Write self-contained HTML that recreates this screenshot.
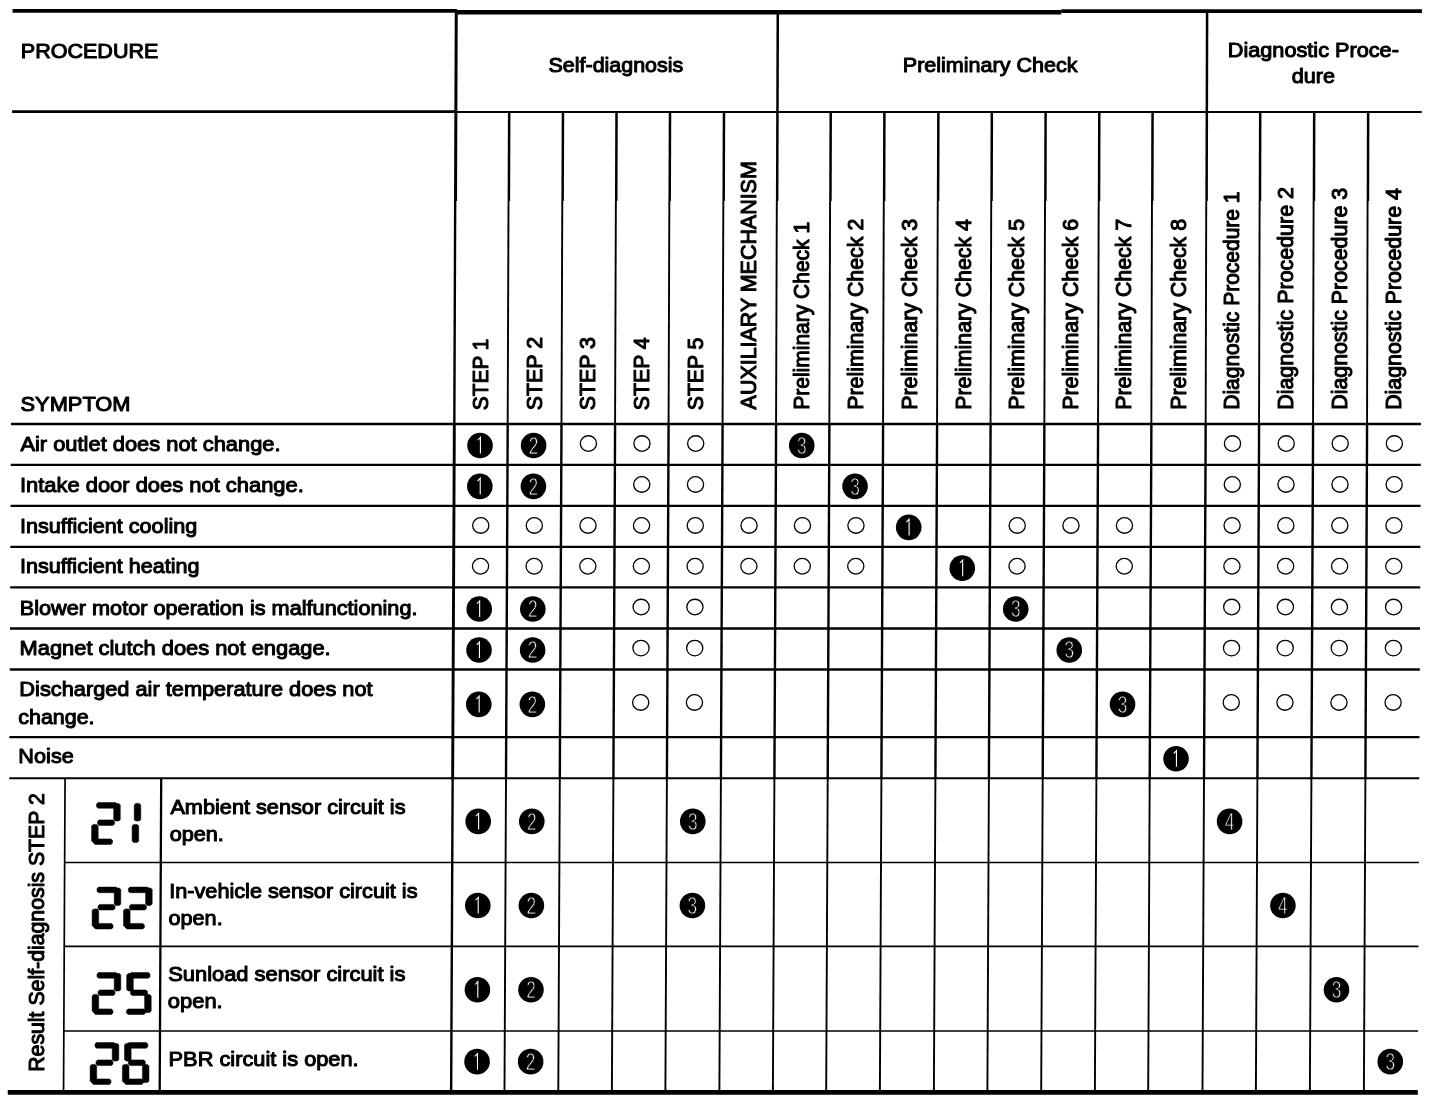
<!DOCTYPE html>
<html><head><meta charset="utf-8"><title>Trouble diagnoses - symptom chart</title>
<style>
html,body{margin:0;padding:0;background:#fff;}
body{width:1456px;height:1116px;overflow:hidden;position:relative;}
svg{position:absolute;left:0;top:0;display:block;will-change:transform;}
text{font-family:"Liberation Sans",sans-serif;fill:#000;stroke:#000;stroke-width:1.05px;stroke-linejoin:round;}
.w{fill:#fff;stroke:#000;stroke-width:0.85px;font-size:24px;text-anchor:middle;}
.ln{stroke:#000;fill:none;}
.seg{fill:#000;stroke:#000;stroke-width:0.5px;stroke-linejoin:round;}
</style></head><body>
<svg width="1456" height="1116" viewBox="0 0 1456 1116">
<rect width="1456" height="1116" fill="#fff"/>
<g class="ln" stroke-linecap="butt">
<line x1="12.50" y1="10.85" x2="457.10" y2="10.85" stroke-width="3.90"/>
<line x1="457.09" y1="12.25" x2="1061.24" y2="12.25" stroke-width="4.70"/>
<line x1="1061.25" y1="11.15" x2="1421.94" y2="11.15" stroke-width="3.90"/>
<line x1="7.74" y1="1092.30" x2="1417.79" y2="1092.30" stroke-width="4.70"/>
<line x1="12.12" y1="111.70" x2="456.72" y2="111.70" stroke-width="2.70"/>
<line x1="456.72" y1="112.00" x2="1421.70" y2="112.00" stroke-width="2.20"/>
<line x1="10.93" y1="424.00" x2="1420.95" y2="424.00" stroke-width="2.30"/>
<line x1="10.75" y1="464.90" x2="1420.80" y2="464.90" stroke-width="2.30"/>
<line x1="10.56" y1="505.80" x2="1420.61" y2="505.80" stroke-width="2.30"/>
<line x1="10.36" y1="546.90" x2="1420.41" y2="546.90" stroke-width="2.30"/>
<line x1="10.17" y1="587.40" x2="1420.22" y2="587.40" stroke-width="2.30"/>
<line x1="9.97" y1="628.50" x2="1420.02" y2="628.50" stroke-width="2.30"/>
<line x1="9.77" y1="669.50" x2="1419.82" y2="669.50" stroke-width="2.30"/>
<line x1="9.45" y1="737.20" x2="1419.50" y2="737.20" stroke-width="2.30"/>
<line x1="9.25" y1="778.30" x2="1419.30" y2="778.30" stroke-width="2.10"/>
<line x1="64.65" y1="862.50" x2="1418.90" y2="862.50" stroke-width="1.70"/>
<line x1="64.24" y1="946.40" x2="1418.49" y2="946.40" stroke-width="1.70"/>
<line x1="63.84" y1="1031.00" x2="1418.09" y2="1031.00" stroke-width="1.70"/>
<line x1="456.25" y1="10.70" x2="455.53" y2="201.05" stroke-width="3.00"/>
<line x1="455.18" y1="200.95" x2="454.33" y2="424.05" stroke-width="2.40"/>
<line x1="454.33" y1="423.95" x2="454.25" y2="445.05" stroke-width="2.90"/>
<line x1="454.25" y1="444.95" x2="452.65" y2="778.35" stroke-width="2.90"/>
<line x1="452.65" y1="778.25" x2="451.14" y2="1092.35" stroke-width="2.40"/>
<line x1="509.19" y1="111.85" x2="508.86" y2="201.05" stroke-width="2.50"/>
<line x1="508.51" y1="200.95" x2="507.68" y2="424.05" stroke-width="1.90"/>
<line x1="507.68" y1="423.95" x2="507.60" y2="445.05" stroke-width="2.40"/>
<line x1="507.60" y1="444.95" x2="506.00" y2="778.35" stroke-width="2.40"/>
<line x1="506.00" y1="778.25" x2="504.49" y2="1092.35" stroke-width="1.90"/>
<line x1="562.96" y1="111.85" x2="562.64" y2="201.05" stroke-width="2.50"/>
<line x1="562.29" y1="200.95" x2="561.48" y2="424.05" stroke-width="1.90"/>
<line x1="561.48" y1="423.95" x2="561.40" y2="445.05" stroke-width="2.40"/>
<line x1="561.40" y1="444.95" x2="559.80" y2="778.35" stroke-width="2.40"/>
<line x1="559.80" y1="778.25" x2="558.29" y2="1092.35" stroke-width="1.90"/>
<line x1="616.53" y1="111.85" x2="616.22" y2="201.05" stroke-width="2.50"/>
<line x1="615.87" y1="200.95" x2="615.07" y2="424.05" stroke-width="1.90"/>
<line x1="615.07" y1="423.95" x2="615.00" y2="445.05" stroke-width="2.40"/>
<line x1="615.00" y1="444.95" x2="613.40" y2="778.35" stroke-width="2.40"/>
<line x1="613.40" y1="778.25" x2="611.89" y2="1092.35" stroke-width="1.90"/>
<line x1="670.01" y1="111.85" x2="669.70" y2="201.05" stroke-width="2.50"/>
<line x1="669.35" y1="200.95" x2="668.57" y2="424.05" stroke-width="1.90"/>
<line x1="668.57" y1="423.95" x2="668.50" y2="445.05" stroke-width="2.40"/>
<line x1="668.50" y1="444.95" x2="666.90" y2="778.35" stroke-width="2.40"/>
<line x1="666.90" y1="778.25" x2="665.39" y2="1092.35" stroke-width="1.90"/>
<line x1="723.98" y1="111.85" x2="723.68" y2="201.05" stroke-width="2.50"/>
<line x1="723.33" y1="200.95" x2="722.57" y2="424.05" stroke-width="1.90"/>
<line x1="722.57" y1="423.95" x2="722.50" y2="445.05" stroke-width="2.40"/>
<line x1="722.50" y1="444.95" x2="720.90" y2="778.35" stroke-width="2.40"/>
<line x1="720.90" y1="778.25" x2="719.39" y2="1092.35" stroke-width="1.90"/>
<line x1="777.79" y1="10.70" x2="777.16" y2="201.05" stroke-width="2.50"/>
<line x1="776.81" y1="200.95" x2="776.07" y2="424.05" stroke-width="1.90"/>
<line x1="776.07" y1="423.95" x2="776.00" y2="445.05" stroke-width="2.40"/>
<line x1="776.00" y1="444.95" x2="774.40" y2="778.35" stroke-width="2.40"/>
<line x1="774.40" y1="778.25" x2="772.89" y2="1092.35" stroke-width="1.90"/>
<line x1="830.72" y1="111.85" x2="830.44" y2="201.05" stroke-width="2.50"/>
<line x1="830.09" y1="200.95" x2="829.37" y2="424.05" stroke-width="1.90"/>
<line x1="829.37" y1="423.95" x2="829.30" y2="445.05" stroke-width="2.40"/>
<line x1="829.30" y1="444.95" x2="827.70" y2="778.35" stroke-width="2.40"/>
<line x1="827.70" y1="778.25" x2="826.19" y2="1092.35" stroke-width="1.90"/>
<line x1="884.40" y1="111.85" x2="884.12" y2="201.05" stroke-width="2.50"/>
<line x1="883.77" y1="200.95" x2="883.07" y2="424.05" stroke-width="1.90"/>
<line x1="883.07" y1="423.95" x2="883.00" y2="445.05" stroke-width="2.40"/>
<line x1="883.00" y1="444.95" x2="881.40" y2="778.35" stroke-width="2.40"/>
<line x1="881.40" y1="778.25" x2="879.89" y2="1092.35" stroke-width="1.90"/>
<line x1="938.37" y1="111.85" x2="938.10" y2="201.05" stroke-width="2.50"/>
<line x1="937.75" y1="200.95" x2="937.06" y2="424.05" stroke-width="1.90"/>
<line x1="937.06" y1="423.95" x2="937.00" y2="445.05" stroke-width="2.40"/>
<line x1="937.00" y1="444.95" x2="935.40" y2="778.35" stroke-width="2.40"/>
<line x1="935.40" y1="778.25" x2="933.89" y2="1092.35" stroke-width="1.90"/>
<line x1="991.84" y1="111.85" x2="991.58" y2="201.05" stroke-width="2.50"/>
<line x1="991.23" y1="200.95" x2="990.56" y2="424.05" stroke-width="1.90"/>
<line x1="990.56" y1="423.95" x2="990.50" y2="445.05" stroke-width="2.40"/>
<line x1="990.50" y1="444.95" x2="988.90" y2="778.35" stroke-width="2.40"/>
<line x1="988.90" y1="778.25" x2="987.39" y2="1092.35" stroke-width="1.90"/>
<line x1="1045.61" y1="111.85" x2="1045.36" y2="201.05" stroke-width="2.50"/>
<line x1="1045.01" y1="200.95" x2="1044.36" y2="424.05" stroke-width="1.90"/>
<line x1="1044.36" y1="423.95" x2="1044.30" y2="445.05" stroke-width="2.40"/>
<line x1="1044.30" y1="444.95" x2="1042.70" y2="778.35" stroke-width="2.40"/>
<line x1="1042.70" y1="778.25" x2="1041.19" y2="1092.35" stroke-width="1.90"/>
<line x1="1099.29" y1="111.85" x2="1099.04" y2="201.05" stroke-width="2.50"/>
<line x1="1098.69" y1="200.95" x2="1098.06" y2="424.05" stroke-width="1.90"/>
<line x1="1098.06" y1="423.95" x2="1098.00" y2="445.05" stroke-width="2.40"/>
<line x1="1098.00" y1="444.95" x2="1096.40" y2="778.35" stroke-width="2.40"/>
<line x1="1096.40" y1="778.25" x2="1094.89" y2="1092.35" stroke-width="1.90"/>
<line x1="1152.56" y1="111.85" x2="1152.32" y2="201.05" stroke-width="2.50"/>
<line x1="1151.97" y1="200.95" x2="1151.36" y2="424.05" stroke-width="1.90"/>
<line x1="1151.36" y1="423.95" x2="1151.30" y2="445.05" stroke-width="2.40"/>
<line x1="1151.30" y1="444.95" x2="1149.70" y2="778.35" stroke-width="2.40"/>
<line x1="1149.70" y1="778.25" x2="1148.19" y2="1092.35" stroke-width="1.90"/>
<line x1="1207.10" y1="10.70" x2="1206.60" y2="201.05" stroke-width="2.50"/>
<line x1="1206.25" y1="200.95" x2="1205.66" y2="424.05" stroke-width="1.90"/>
<line x1="1205.66" y1="423.95" x2="1205.60" y2="445.05" stroke-width="2.40"/>
<line x1="1205.60" y1="444.95" x2="1204.00" y2="778.35" stroke-width="2.40"/>
<line x1="1204.00" y1="778.25" x2="1202.49" y2="1092.35" stroke-width="1.90"/>
<line x1="1260.20" y1="111.85" x2="1259.98" y2="201.05" stroke-width="2.50"/>
<line x1="1259.63" y1="200.95" x2="1259.05" y2="424.05" stroke-width="1.90"/>
<line x1="1259.05" y1="423.95" x2="1259.00" y2="445.05" stroke-width="2.40"/>
<line x1="1259.00" y1="444.95" x2="1257.40" y2="778.35" stroke-width="2.40"/>
<line x1="1257.40" y1="778.25" x2="1255.89" y2="1092.35" stroke-width="1.90"/>
<line x1="1314.18" y1="111.85" x2="1313.96" y2="201.05" stroke-width="2.50"/>
<line x1="1313.61" y1="200.95" x2="1313.05" y2="424.05" stroke-width="1.90"/>
<line x1="1313.05" y1="423.95" x2="1313.00" y2="445.05" stroke-width="2.40"/>
<line x1="1313.00" y1="444.95" x2="1311.40" y2="778.35" stroke-width="2.40"/>
<line x1="1311.40" y1="778.25" x2="1309.89" y2="1092.35" stroke-width="1.90"/>
<line x1="1368.15" y1="111.85" x2="1367.94" y2="201.05" stroke-width="2.50"/>
<line x1="1367.59" y1="200.95" x2="1367.05" y2="424.05" stroke-width="1.90"/>
<line x1="1367.05" y1="423.95" x2="1367.00" y2="445.05" stroke-width="2.40"/>
<line x1="1367.00" y1="444.95" x2="1365.40" y2="778.35" stroke-width="2.40"/>
<line x1="1365.40" y1="778.25" x2="1363.89" y2="1092.35" stroke-width="1.90"/>
<line x1="65.05" y1="778.25" x2="63.54" y2="1092.35" stroke-width="1.70"/>
<line x1="161.20" y1="778.25" x2="159.69" y2="1092.35" stroke-width="2.30"/>
</g>
<text x="20.80" y="58.38" font-size="21.0" textLength="137.53" lengthAdjust="spacingAndGlyphs">PROCEDURE</text>
<text x="20.54" y="410.57" font-size="21.0" textLength="109.94" lengthAdjust="spacingAndGlyphs">SYMPTOM</text>
<text x="548.56" y="72.08" font-size="21.0" textLength="134.70" lengthAdjust="spacingAndGlyphs">Self-diagnosis</text>
<text x="902.80" y="72.08" font-size="21.0" textLength="174.64" lengthAdjust="spacingAndGlyphs">Preliminary Check</text>
<text x="1227.79" y="56.78" font-size="21.0" textLength="171.10" lengthAdjust="spacingAndGlyphs">Diagnostic Proce-</text>
<text x="1291.66" y="83.38" font-size="21.0" textLength="43.32" lengthAdjust="spacingAndGlyphs">dure</text>
<text x="20.42" y="450.77" font-size="21.0" textLength="260.18" lengthAdjust="spacingAndGlyphs">Air outlet does not change.</text>
<text x="19.95" y="491.77" font-size="21.0" textLength="283.89" lengthAdjust="spacingAndGlyphs">Intake door does not change.</text>
<text x="19.98" y="532.68" font-size="21.0" textLength="177.28" lengthAdjust="spacingAndGlyphs">Insufficient cooling</text>
<text x="19.98" y="573.28" font-size="21.0" textLength="179.51" lengthAdjust="spacingAndGlyphs">Insufficient heating</text>
<text x="19.69" y="614.78" font-size="21.0" textLength="397.80" lengthAdjust="spacingAndGlyphs">Blower motor operation is malfunctioning.</text>
<text x="19.58" y="654.58" font-size="21.0" textLength="311.12" lengthAdjust="spacingAndGlyphs">Magnet clutch does not engage.</text>
<text x="19.38" y="696.48" font-size="21.0" textLength="353.23" lengthAdjust="spacingAndGlyphs">Discharged air temperature does not</text>
<text x="18.26" y="723.88" font-size="21.0" textLength="76.32" lengthAdjust="spacingAndGlyphs">change.</text>
<text x="18.39" y="763.38" font-size="21.0" textLength="55.40" lengthAdjust="spacingAndGlyphs">Noise</text>
<text x="170.42" y="813.98" font-size="21.0" textLength="235.07" lengthAdjust="spacingAndGlyphs">Ambient sensor circuit is</text>
<text x="169.66" y="841.18" font-size="21.0" textLength="54.22" lengthAdjust="spacingAndGlyphs">open.</text>
<text x="169.17" y="898.08" font-size="21.0" textLength="248.33" lengthAdjust="spacingAndGlyphs">In-vehicle sensor circuit is</text>
<text x="168.46" y="924.58" font-size="21.0" textLength="54.22" lengthAdjust="spacingAndGlyphs">open.</text>
<text x="168.24" y="981.38" font-size="21.0" textLength="237.17" lengthAdjust="spacingAndGlyphs">Sunload sensor circuit is</text>
<text x="167.85" y="1008.38" font-size="21.0" textLength="54.85" lengthAdjust="spacingAndGlyphs">open.</text>
<text x="168.58" y="1065.98" font-size="21.0" textLength="190.07" lengthAdjust="spacingAndGlyphs">PBR circuit is open.</text>
<text transform="translate(487.74 410.21) rotate(-90)" font-size="21.3" textLength="71.59" lengthAdjust="spacingAndGlyphs">STEP 1</text>
<text transform="translate(541.53 410.24) rotate(-90)" font-size="21.3" textLength="73.34" lengthAdjust="spacingAndGlyphs">STEP 2</text>
<text transform="translate(595.12 410.24) rotate(-90)" font-size="21.3" textLength="73.23" lengthAdjust="spacingAndGlyphs">STEP 3</text>
<text transform="translate(648.61 410.23) rotate(-90)" font-size="21.3" textLength="72.91" lengthAdjust="spacingAndGlyphs">STEP 4</text>
<text transform="translate(702.60 410.23) rotate(-90)" font-size="21.3" textLength="72.61" lengthAdjust="spacingAndGlyphs">STEP 5</text>
<text transform="translate(756.09 409.38) rotate(-90)" font-size="21.3" textLength="248.13" lengthAdjust="spacingAndGlyphs">AUXILIARY MECHANISM</text>
<text transform="translate(809.38 409.75) rotate(-90)" font-size="21.3" textLength="187.83" lengthAdjust="spacingAndGlyphs">Preliminary Check 1</text>
<text transform="translate(863.07 409.78) rotate(-90)" font-size="21.3" textLength="191.08" lengthAdjust="spacingAndGlyphs">Preliminary Check 2</text>
<text transform="translate(917.06 409.78) rotate(-90)" font-size="21.3" textLength="190.97" lengthAdjust="spacingAndGlyphs">Preliminary Check 3</text>
<text transform="translate(970.55 409.78) rotate(-90)" font-size="21.3" textLength="190.65" lengthAdjust="spacingAndGlyphs">Preliminary Check 4</text>
<text transform="translate(1024.34 409.78) rotate(-90)" font-size="21.3" textLength="190.86" lengthAdjust="spacingAndGlyphs">Preliminary Check 5</text>
<text transform="translate(1078.03 409.78) rotate(-90)" font-size="21.3" textLength="190.97" lengthAdjust="spacingAndGlyphs">Preliminary Check 6</text>
<text transform="translate(1131.32 409.78) rotate(-90)" font-size="21.3" textLength="191.08" lengthAdjust="spacingAndGlyphs">Preliminary Check 7</text>
<text transform="translate(1185.61 409.78) rotate(-90)" font-size="21.3" textLength="190.86" lengthAdjust="spacingAndGlyphs">Preliminary Check 8</text>
<text transform="translate(1239.00 409.75) rotate(-90)" font-size="21.3" textLength="218.28" lengthAdjust="spacingAndGlyphs">Diagnostic Procedure 1</text>
<text transform="translate(1292.99 409.79) rotate(-90)" font-size="21.3" textLength="222.73" lengthAdjust="spacingAndGlyphs">Diagnostic Procedure 2</text>
<text transform="translate(1346.97 409.78) rotate(-90)" font-size="21.3" textLength="221.92" lengthAdjust="spacingAndGlyphs">Diagnostic Procedure 3</text>
<text transform="translate(1401.28 409.78) rotate(-90)" font-size="21.3" textLength="221.59" lengthAdjust="spacingAndGlyphs">Diagnostic Procedure 4</text>
<text transform="translate(43.88 1071.78) rotate(-90)" font-size="21.3" textLength="278.60" lengthAdjust="spacingAndGlyphs">Result Self-diagnosis STEP 2</text>
<circle cx="480.02" cy="445.45" r="12.8" fill="#000"/>
<path d="M477.72 440.25l2.7 -2.9v16.2" fill="none" stroke="#fff" stroke-width="1.1"/>
<circle cx="533.60" cy="445.45" r="12.8" fill="#000"/>
<text class="w" x="533.60" y="453.65" transform="translate(533.60 0) scale(0.72 1) translate(-533.60 0)">2</text>
<ellipse cx="588.41" cy="443.55" rx="8.1" ry="7.8" fill="none" stroke="#000" stroke-width="1.3"/>
<ellipse cx="641.96" cy="443.55" rx="8.1" ry="7.8" fill="none" stroke="#000" stroke-width="1.3"/>
<ellipse cx="695.70" cy="443.55" rx="8.1" ry="7.8" fill="none" stroke="#000" stroke-width="1.3"/>
<circle cx="801.75" cy="445.45" r="12.8" fill="#000"/>
<text class="w" x="801.75" y="453.65" transform="translate(801.75 0) scale(0.72 1) translate(-801.75 0)">3</text>
<ellipse cx="1232.50" cy="443.55" rx="8.1" ry="7.8" fill="none" stroke="#000" stroke-width="1.3"/>
<ellipse cx="1286.20" cy="443.55" rx="8.1" ry="7.8" fill="none" stroke="#000" stroke-width="1.3"/>
<ellipse cx="1340.20" cy="443.55" rx="8.1" ry="7.8" fill="none" stroke="#000" stroke-width="1.3"/>
<ellipse cx="1394.35" cy="443.55" rx="8.1" ry="7.8" fill="none" stroke="#000" stroke-width="1.3"/>
<circle cx="479.83" cy="486.35" r="12.8" fill="#000"/>
<path d="M477.53 481.15l2.7 -2.9v16.2" fill="none" stroke="#fff" stroke-width="1.1"/>
<circle cx="533.40" cy="486.35" r="12.8" fill="#000"/>
<text class="w" x="533.40" y="494.55" transform="translate(533.40 0) scale(0.72 1) translate(-533.40 0)">2</text>
<ellipse cx="641.76" cy="484.45" rx="8.1" ry="7.8" fill="none" stroke="#000" stroke-width="1.3"/>
<ellipse cx="695.51" cy="484.45" rx="8.1" ry="7.8" fill="none" stroke="#000" stroke-width="1.3"/>
<circle cx="855.05" cy="486.35" r="12.8" fill="#000"/>
<text class="w" x="855.05" y="494.55" transform="translate(855.05 0) scale(0.72 1) translate(-855.05 0)">3</text>
<ellipse cx="1232.31" cy="484.45" rx="8.1" ry="7.8" fill="none" stroke="#000" stroke-width="1.3"/>
<ellipse cx="1286.01" cy="484.45" rx="8.1" ry="7.8" fill="none" stroke="#000" stroke-width="1.3"/>
<ellipse cx="1340.01" cy="484.45" rx="8.1" ry="7.8" fill="none" stroke="#000" stroke-width="1.3"/>
<ellipse cx="1394.16" cy="484.45" rx="8.1" ry="7.8" fill="none" stroke="#000" stroke-width="1.3"/>
<ellipse cx="480.74" cy="525.45" rx="8.1" ry="7.8" fill="none" stroke="#000" stroke-width="1.3"/>
<ellipse cx="534.31" cy="525.45" rx="8.1" ry="7.8" fill="none" stroke="#000" stroke-width="1.3"/>
<ellipse cx="588.01" cy="525.45" rx="8.1" ry="7.8" fill="none" stroke="#000" stroke-width="1.3"/>
<ellipse cx="641.56" cy="525.45" rx="8.1" ry="7.8" fill="none" stroke="#000" stroke-width="1.3"/>
<ellipse cx="695.31" cy="525.45" rx="8.1" ry="7.8" fill="none" stroke="#000" stroke-width="1.3"/>
<ellipse cx="749.06" cy="525.45" rx="8.1" ry="7.8" fill="none" stroke="#000" stroke-width="1.3"/>
<ellipse cx="802.46" cy="525.45" rx="8.1" ry="7.8" fill="none" stroke="#000" stroke-width="1.3"/>
<ellipse cx="855.96" cy="525.45" rx="8.1" ry="7.8" fill="none" stroke="#000" stroke-width="1.3"/>
<circle cx="908.70" cy="527.35" r="12.8" fill="#000"/>
<path d="M906.40 522.15l2.7 -2.9v16.2" fill="none" stroke="#fff" stroke-width="1.1"/>
<ellipse cx="1017.21" cy="525.45" rx="8.1" ry="7.8" fill="none" stroke="#000" stroke-width="1.3"/>
<ellipse cx="1070.96" cy="525.45" rx="8.1" ry="7.8" fill="none" stroke="#000" stroke-width="1.3"/>
<ellipse cx="1124.46" cy="525.45" rx="8.1" ry="7.8" fill="none" stroke="#000" stroke-width="1.3"/>
<ellipse cx="1232.11" cy="525.45" rx="8.1" ry="7.8" fill="none" stroke="#000" stroke-width="1.3"/>
<ellipse cx="1285.81" cy="525.45" rx="8.1" ry="7.8" fill="none" stroke="#000" stroke-width="1.3"/>
<ellipse cx="1339.81" cy="525.45" rx="8.1" ry="7.8" fill="none" stroke="#000" stroke-width="1.3"/>
<ellipse cx="1393.96" cy="525.45" rx="8.1" ry="7.8" fill="none" stroke="#000" stroke-width="1.3"/>
<ellipse cx="480.54" cy="566.25" rx="8.1" ry="7.8" fill="none" stroke="#000" stroke-width="1.3"/>
<ellipse cx="534.12" cy="566.25" rx="8.1" ry="7.8" fill="none" stroke="#000" stroke-width="1.3"/>
<ellipse cx="587.82" cy="566.25" rx="8.1" ry="7.8" fill="none" stroke="#000" stroke-width="1.3"/>
<ellipse cx="641.37" cy="566.25" rx="8.1" ry="7.8" fill="none" stroke="#000" stroke-width="1.3"/>
<ellipse cx="695.12" cy="566.25" rx="8.1" ry="7.8" fill="none" stroke="#000" stroke-width="1.3"/>
<ellipse cx="748.87" cy="566.25" rx="8.1" ry="7.8" fill="none" stroke="#000" stroke-width="1.3"/>
<ellipse cx="802.27" cy="566.25" rx="8.1" ry="7.8" fill="none" stroke="#000" stroke-width="1.3"/>
<ellipse cx="855.77" cy="566.25" rx="8.1" ry="7.8" fill="none" stroke="#000" stroke-width="1.3"/>
<circle cx="962.26" cy="568.15" r="12.8" fill="#000"/>
<path d="M959.96 562.95l2.7 -2.9v16.2" fill="none" stroke="#fff" stroke-width="1.1"/>
<ellipse cx="1017.02" cy="566.25" rx="8.1" ry="7.8" fill="none" stroke="#000" stroke-width="1.3"/>
<ellipse cx="1124.27" cy="566.25" rx="8.1" ry="7.8" fill="none" stroke="#000" stroke-width="1.3"/>
<ellipse cx="1231.92" cy="566.25" rx="8.1" ry="7.8" fill="none" stroke="#000" stroke-width="1.3"/>
<ellipse cx="1285.62" cy="566.25" rx="8.1" ry="7.8" fill="none" stroke="#000" stroke-width="1.3"/>
<ellipse cx="1339.62" cy="566.25" rx="8.1" ry="7.8" fill="none" stroke="#000" stroke-width="1.3"/>
<ellipse cx="1393.77" cy="566.25" rx="8.1" ry="7.8" fill="none" stroke="#000" stroke-width="1.3"/>
<circle cx="479.24" cy="608.95" r="12.8" fill="#000"/>
<path d="M476.94 603.75l2.7 -2.9v16.2" fill="none" stroke="#fff" stroke-width="1.1"/>
<circle cx="532.81" cy="608.95" r="12.8" fill="#000"/>
<text class="w" x="532.81" y="617.15" transform="translate(532.81 0) scale(0.72 1) translate(-532.81 0)">2</text>
<ellipse cx="641.17" cy="607.05" rx="8.1" ry="7.8" fill="none" stroke="#000" stroke-width="1.3"/>
<ellipse cx="694.92" cy="607.05" rx="8.1" ry="7.8" fill="none" stroke="#000" stroke-width="1.3"/>
<circle cx="1015.71" cy="608.95" r="12.8" fill="#000"/>
<text class="w" x="1015.71" y="617.15" transform="translate(1015.71 0) scale(0.72 1) translate(-1015.71 0)">3</text>
<ellipse cx="1231.72" cy="607.05" rx="8.1" ry="7.8" fill="none" stroke="#000" stroke-width="1.3"/>
<ellipse cx="1285.42" cy="607.05" rx="8.1" ry="7.8" fill="none" stroke="#000" stroke-width="1.3"/>
<ellipse cx="1339.42" cy="607.05" rx="8.1" ry="7.8" fill="none" stroke="#000" stroke-width="1.3"/>
<ellipse cx="1393.57" cy="607.05" rx="8.1" ry="7.8" fill="none" stroke="#000" stroke-width="1.3"/>
<circle cx="479.04" cy="650.00" r="12.8" fill="#000"/>
<path d="M476.74 644.80l2.7 -2.9v16.2" fill="none" stroke="#fff" stroke-width="1.1"/>
<circle cx="532.62" cy="650.00" r="12.8" fill="#000"/>
<text class="w" x="532.62" y="658.20" transform="translate(532.62 0) scale(0.72 1) translate(-532.62 0)">2</text>
<ellipse cx="640.98" cy="648.10" rx="8.1" ry="7.8" fill="none" stroke="#000" stroke-width="1.3"/>
<ellipse cx="694.73" cy="648.10" rx="8.1" ry="7.8" fill="none" stroke="#000" stroke-width="1.3"/>
<circle cx="1069.27" cy="650.00" r="12.8" fill="#000"/>
<text class="w" x="1069.27" y="658.20" transform="translate(1069.27 0) scale(0.72 1) translate(-1069.27 0)">3</text>
<ellipse cx="1231.53" cy="648.10" rx="8.1" ry="7.8" fill="none" stroke="#000" stroke-width="1.3"/>
<ellipse cx="1285.23" cy="648.10" rx="8.1" ry="7.8" fill="none" stroke="#000" stroke-width="1.3"/>
<ellipse cx="1339.23" cy="648.10" rx="8.1" ry="7.8" fill="none" stroke="#000" stroke-width="1.3"/>
<ellipse cx="1393.38" cy="648.10" rx="8.1" ry="7.8" fill="none" stroke="#000" stroke-width="1.3"/>
<circle cx="478.78" cy="704.35" r="12.8" fill="#000"/>
<path d="M476.48 699.15l2.7 -2.9v16.2" fill="none" stroke="#fff" stroke-width="1.1"/>
<circle cx="532.36" cy="704.35" r="12.8" fill="#000"/>
<text class="w" x="532.36" y="712.55" transform="translate(532.36 0) scale(0.72 1) translate(-532.36 0)">2</text>
<ellipse cx="640.71" cy="702.45" rx="8.1" ry="7.8" fill="none" stroke="#000" stroke-width="1.3"/>
<ellipse cx="694.46" cy="702.45" rx="8.1" ry="7.8" fill="none" stroke="#000" stroke-width="1.3"/>
<circle cx="1122.51" cy="704.35" r="12.8" fill="#000"/>
<text class="w" x="1122.51" y="712.55" transform="translate(1122.51 0) scale(0.72 1) translate(-1122.51 0)">3</text>
<ellipse cx="1231.26" cy="702.45" rx="8.1" ry="7.8" fill="none" stroke="#000" stroke-width="1.3"/>
<ellipse cx="1284.96" cy="702.45" rx="8.1" ry="7.8" fill="none" stroke="#000" stroke-width="1.3"/>
<ellipse cx="1338.96" cy="702.45" rx="8.1" ry="7.8" fill="none" stroke="#000" stroke-width="1.3"/>
<ellipse cx="1393.11" cy="702.45" rx="8.1" ry="7.8" fill="none" stroke="#000" stroke-width="1.3"/>
<circle cx="1176.04" cy="758.75" r="12.8" fill="#000"/>
<path d="M1173.74 753.55l2.7 -2.9v16.2" fill="none" stroke="#fff" stroke-width="1.1"/>
<circle cx="478.22" cy="821.40" r="12.8" fill="#000"/>
<path d="M475.92 816.20l2.7 -2.9v16.2" fill="none" stroke="#fff" stroke-width="1.1"/>
<circle cx="531.79" cy="821.40" r="12.8" fill="#000"/>
<text class="w" x="531.79" y="829.60" transform="translate(531.79 0) scale(0.72 1) translate(-531.79 0)">2</text>
<circle cx="692.79" cy="821.40" r="12.8" fill="#000"/>
<text class="w" x="692.79" y="829.60" transform="translate(692.79 0) scale(0.72 1) translate(-692.79 0)">3</text>
<circle cx="1229.59" cy="821.40" r="12.8" fill="#000"/>
<text class="w" x="1229.59" y="829.60" transform="translate(1229.59 0) scale(0.72 1) translate(-1229.59 0)">4</text>
<circle cx="477.81" cy="905.45" r="12.8" fill="#000"/>
<path d="M475.51 900.25l2.7 -2.9v16.2" fill="none" stroke="#fff" stroke-width="1.1"/>
<circle cx="531.39" cy="905.45" r="12.8" fill="#000"/>
<text class="w" x="531.39" y="913.65" transform="translate(531.39 0) scale(0.72 1) translate(-531.39 0)">2</text>
<circle cx="692.39" cy="905.45" r="12.8" fill="#000"/>
<text class="w" x="692.39" y="913.65" transform="translate(692.39 0) scale(0.72 1) translate(-692.39 0)">3</text>
<circle cx="1282.89" cy="905.45" r="12.8" fill="#000"/>
<text class="w" x="1282.89" y="913.65" transform="translate(1282.89 0) scale(0.72 1) translate(-1282.89 0)">4</text>
<circle cx="477.41" cy="989.70" r="12.8" fill="#000"/>
<path d="M475.11 984.50l2.7 -2.9v16.2" fill="none" stroke="#fff" stroke-width="1.1"/>
<circle cx="530.99" cy="989.70" r="12.8" fill="#000"/>
<text class="w" x="530.99" y="997.90" transform="translate(530.99 0) scale(0.72 1) translate(-530.99 0)">2</text>
<circle cx="1336.49" cy="989.70" r="12.8" fill="#000"/>
<text class="w" x="1336.49" y="997.90" transform="translate(1336.49 0) scale(0.72 1) translate(-1336.49 0)">3</text>
<circle cx="477.07" cy="1061.65" r="12.8" fill="#000"/>
<path d="M474.77 1056.45l2.7 -2.9v16.2" fill="none" stroke="#fff" stroke-width="1.1"/>
<circle cx="530.64" cy="1061.65" r="12.8" fill="#000"/>
<text class="w" x="530.64" y="1069.85" transform="translate(530.64 0) scale(0.72 1) translate(-530.64 0)">2</text>
<circle cx="1390.29" cy="1061.65" r="12.8" fill="#000"/>
<text class="w" x="1390.29" y="1069.85" transform="translate(1390.29 0) scale(0.72 1) translate(-1390.29 0)">3</text>
<g class="seg" transform="translate(91.50 845.00)">
<polygon points="5.00,-40.90 6.50,-42.40 24.00,-42.40 25.50,-40.90 25.50,-38.30 24.00,-36.80 6.50,-36.80 5.00,-38.30"/>
<polygon points="23.70,-41.60 27.30,-41.60 28.80,-40.10 28.80,-25.50 27.30,-24.00 23.70,-24.00 22.20,-25.50 22.20,-40.10"/>
<polygon points="6.00,-23.60 7.50,-25.10 21.50,-25.10 23.00,-23.60 23.00,-21.00 21.50,-19.50 7.50,-19.50 6.00,-21.00"/>
<polygon points="1.60,-20.60 5.20,-20.60 6.70,-19.10 6.70,-3.90 5.20,-2.40 1.60,-2.40 0.10,-3.90 0.10,-19.10"/>
<polygon points="2.00,-4.60 3.50,-6.10 19.50,-6.10 21.00,-4.60 21.00,-2.00 19.50,-0.50 3.50,-0.50 2.00,-2.00"/>
</g>
<g class="seg" transform="translate(112.00 845.00)">
<polygon points="23.70,-41.60 27.30,-41.60 28.80,-40.10 28.80,-25.50 27.30,-24.00 23.70,-24.00 22.20,-25.50 22.20,-40.10"/>
<polygon points="21.60,-20.60 25.20,-20.60 26.70,-19.10 26.70,-3.90 25.20,-2.40 21.60,-2.40 20.10,-3.90 20.10,-19.10"/>
</g>
<g class="seg" transform="translate(92.00 929.50)">
<polygon points="5.00,-40.90 6.50,-42.40 24.00,-42.40 25.50,-40.90 25.50,-38.30 24.00,-36.80 6.50,-36.80 5.00,-38.30"/>
<polygon points="23.70,-41.60 27.30,-41.60 28.80,-40.10 28.80,-25.50 27.30,-24.00 23.70,-24.00 22.20,-25.50 22.20,-40.10"/>
<polygon points="6.00,-23.60 7.50,-25.10 21.50,-25.10 23.00,-23.60 23.00,-21.00 21.50,-19.50 7.50,-19.50 6.00,-21.00"/>
<polygon points="1.60,-20.60 5.20,-20.60 6.70,-19.10 6.70,-3.90 5.20,-2.40 1.60,-2.40 0.10,-3.90 0.10,-19.10"/>
<polygon points="2.00,-4.60 3.50,-6.10 19.50,-6.10 21.00,-4.60 21.00,-2.00 19.50,-0.50 3.50,-0.50 2.00,-2.00"/>
</g>
<g class="seg" transform="translate(123.40 929.50)">
<polygon points="5.00,-40.90 6.50,-42.40 24.00,-42.40 25.50,-40.90 25.50,-38.30 24.00,-36.80 6.50,-36.80 5.00,-38.30"/>
<polygon points="23.70,-41.60 27.30,-41.60 28.80,-40.10 28.80,-25.50 27.30,-24.00 23.70,-24.00 22.20,-25.50 22.20,-40.10"/>
<polygon points="6.00,-23.60 7.50,-25.10 21.50,-25.10 23.00,-23.60 23.00,-21.00 21.50,-19.50 7.50,-19.50 6.00,-21.00"/>
<polygon points="1.60,-20.60 5.20,-20.60 6.70,-19.10 6.70,-3.90 5.20,-2.40 1.60,-2.40 0.10,-3.90 0.10,-19.10"/>
<polygon points="2.00,-4.60 3.50,-6.10 19.50,-6.10 21.00,-4.60 21.00,-2.00 19.50,-0.50 3.50,-0.50 2.00,-2.00"/>
</g>
<g class="seg" transform="translate(92.00 1015.00)">
<polygon points="5.00,-40.90 6.50,-42.40 24.00,-42.40 25.50,-40.90 25.50,-38.30 24.00,-36.80 6.50,-36.80 5.00,-38.30"/>
<polygon points="23.70,-41.60 27.30,-41.60 28.80,-40.10 28.80,-25.50 27.30,-24.00 23.70,-24.00 22.20,-25.50 22.20,-40.10"/>
<polygon points="6.00,-23.60 7.50,-25.10 21.50,-25.10 23.00,-23.60 23.00,-21.00 21.50,-19.50 7.50,-19.50 6.00,-21.00"/>
<polygon points="1.60,-20.60 5.20,-20.60 6.70,-19.10 6.70,-3.90 5.20,-2.40 1.60,-2.40 0.10,-3.90 0.10,-19.10"/>
<polygon points="2.00,-4.60 3.50,-6.10 19.50,-6.10 21.00,-4.60 21.00,-2.00 19.50,-0.50 3.50,-0.50 2.00,-2.00"/>
</g>
<g class="seg" transform="translate(124.50 1015.00)">
<polygon points="5.00,-40.90 6.50,-42.40 24.00,-42.40 25.50,-40.90 25.50,-38.30 24.00,-36.80 6.50,-36.80 5.00,-38.30"/>
<polygon points="3.70,-41.60 7.30,-41.60 8.80,-40.10 8.80,-25.50 7.30,-24.00 3.70,-24.00 2.20,-25.50 2.20,-40.10"/>
<polygon points="6.00,-23.60 7.50,-25.10 21.50,-25.10 23.00,-23.60 23.00,-21.00 21.50,-19.50 7.50,-19.50 6.00,-21.00"/>
<polygon points="21.60,-20.60 25.20,-20.60 26.70,-19.10 26.70,-3.90 25.20,-2.40 21.60,-2.40 20.10,-3.90 20.10,-19.10"/>
<polygon points="2.00,-4.60 3.50,-6.10 19.50,-6.10 21.00,-4.60 21.00,-2.00 19.50,-0.50 3.50,-0.50 2.00,-2.00"/>
</g>
<g class="seg" transform="translate(90.00 1085.00)">
<polygon points="5.00,-40.90 6.50,-42.40 24.00,-42.40 25.50,-40.90 25.50,-38.30 24.00,-36.80 6.50,-36.80 5.00,-38.30"/>
<polygon points="23.70,-41.60 27.30,-41.60 28.80,-40.10 28.80,-25.50 27.30,-24.00 23.70,-24.00 22.20,-25.50 22.20,-40.10"/>
<polygon points="6.00,-23.60 7.50,-25.10 21.50,-25.10 23.00,-23.60 23.00,-21.00 21.50,-19.50 7.50,-19.50 6.00,-21.00"/>
<polygon points="1.60,-20.60 5.20,-20.60 6.70,-19.10 6.70,-3.90 5.20,-2.40 1.60,-2.40 0.10,-3.90 0.10,-19.10"/>
<polygon points="2.00,-4.60 3.50,-6.10 19.50,-6.10 21.00,-4.60 21.00,-2.00 19.50,-0.50 3.50,-0.50 2.00,-2.00"/>
</g>
<g class="seg" transform="translate(122.30 1085.00)">
<polygon points="5.00,-40.90 6.50,-42.40 24.00,-42.40 25.50,-40.90 25.50,-38.30 24.00,-36.80 6.50,-36.80 5.00,-38.30"/>
<polygon points="3.70,-41.60 7.30,-41.60 8.80,-40.10 8.80,-25.50 7.30,-24.00 3.70,-24.00 2.20,-25.50 2.20,-40.10"/>
<polygon points="6.00,-23.60 7.50,-25.10 21.50,-25.10 23.00,-23.60 23.00,-21.00 21.50,-19.50 7.50,-19.50 6.00,-21.00"/>
<polygon points="1.60,-20.60 5.20,-20.60 6.70,-19.10 6.70,-3.90 5.20,-2.40 1.60,-2.40 0.10,-3.90 0.10,-19.10"/>
<polygon points="2.00,-4.60 3.50,-6.10 19.50,-6.10 21.00,-4.60 21.00,-2.00 19.50,-0.50 3.50,-0.50 2.00,-2.00"/>
<polygon points="21.60,-20.60 25.20,-20.60 26.70,-19.10 26.70,-3.90 25.20,-2.40 21.60,-2.40 20.10,-3.90 20.10,-19.10"/>
</g>
</svg>
</body></html>
